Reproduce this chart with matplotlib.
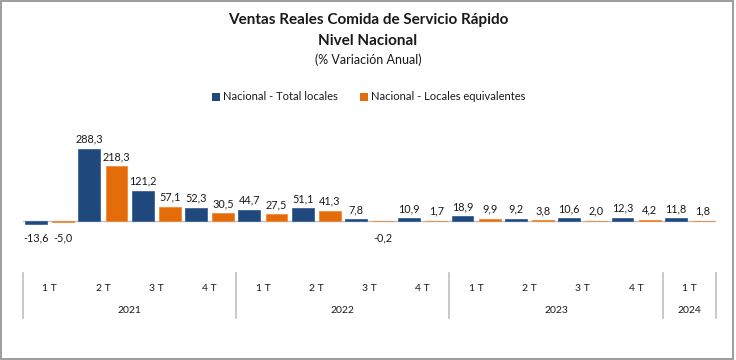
import matplotlib
matplotlib.use('Agg')
import matplotlib.pyplot as plt
from matplotlib.patches import Rectangle, Patch
import numpy as np

plt.rcParams['font.family'] = ['Lato', 'DejaVu Sans']

# data
quarters = ['1 T', '2 T', '3 T', '4 T', '1 T', '2 T', '3 T', '4 T',
            '1 T', '2 T', '3 T', '4 T', '1 T']
years = ['2021', '2022', '2023', '2024']
year_len = [4, 4, 4, 1]
total_locales = [-13.6, 288.3, 121.2, 52.3, 44.7, 51.1, 7.8, 10.9,
                 18.9, 9.2, 10.6, 12.3, 11.8]
locales_equiv = [-5.0, 218.3, 57.1, 30.5, 27.5, 41.3, -0.2, 1.7,
                 9.9, 3.8, 2.0, 4.2, 1.8]

blue = '#1F497D'
orange = '#E46C0A'
txt = '#1A1A1A'

fig = plt.figure(figsize=(7.36, 3.6), dpi=100)
ax = fig.add_axes([23 / 736, 1 - 250 / 360, 693 / 736, 120 / 360])

x = np.arange(len(quarters))
w = 0.41
off = 0.255
b1 = ax.bar(x - off, total_locales, w, color=blue, edgecolor='#3F6396', linewidth=0.6)
b2 = ax.bar(x + off, locales_equiv, w, color=orange, edgecolor='#F08A3A', linewidth=0.6)

def fmt(v):
    return f'{v:.1f}'.replace('.', ',')

for bars, vals in [(b1, total_locales), (b2, locales_equiv)]:
    for r, v in zip(bars, vals):
        cx = r.get_x() + r.get_width() / 2
        if v >= 0:
            ax.annotate(fmt(v), (cx, v), xytext=(0, 3), textcoords='offset points',
                        ha='center', va='bottom', fontsize=7.8, color=txt)
        else:
            ax.annotate(fmt(v), (cx, 0), xytext=(0, -8), textcoords='offset points',
                        ha='center', va='top', fontsize=7.8, color=txt)

ax.set_xlim(-0.5, len(quarters) - 0.5)
ax.set_ylim(-115, 362)
ax.axhline(0, color='#BFBFBF', linewidth=1, zorder=0)
for s in ax.spines.values():
    s.set_visible(False)
ax.set_xticks([])
ax.set_yticks([])

# two-level category axis
tr = ax.get_xaxis_transform()
for i, q in enumerate(quarters):
    ax.text(i, -0.317, q, transform=tr, ha='center', va='center', fontsize=7.5, color=txt)
edges = np.concatenate([[0], np.cumsum(year_len)]) - 0.5
for e in edges:
    ax.plot([e, e], [-0.19, -0.567], transform=tr, color='#BFBFBF', linewidth=1.2, clip_on=False)
for y, a, b in zip(years, edges[:-1], edges[1:]):
    ax.text((a + b) / 2, -0.508, y, transform=tr, ha='center', va='center', fontsize=7.5, color=txt)

# titles
fig.text(0.5, 1 - 20 / 360, 'Ventas Reales Comida de Servicio Rápido', ha='center', va='center',
         fontsize=11, fontweight='bold', color=txt)
fig.text(0.5, 1 - 41 / 360, 'Nivel Nacional', ha='center', va='center',
         fontsize=11, fontweight='bold', color=txt)
fig.text(0.5, 1 - 60 / 360, '(% Variación Anual)', ha='center', va='center',
         fontsize=9, color=txt)

handles = [Patch(facecolor=blue, label='Nacional - Total locales'),
           Patch(facecolor=orange, label='Nacional - Locales equivalentes')]
fig.legend(handles=handles, loc='center', bbox_to_anchor=(369 / 736, 1 - 97 / 360), ncol=2,
           frameon=False, fontsize=8, handlelength=0.7, handleheight=0.7,
           handletextpad=0.3, columnspacing=2.0, labelcolor=txt)

# outer chart border
fig.patches.append(Rectangle((0.001, 0.003), 0.995, 0.995, transform=fig.transFigure,
                             fill=False, edgecolor='#8C8C8C', linewidth=1.2))

fig.savefig('out.png', dpi=100)
